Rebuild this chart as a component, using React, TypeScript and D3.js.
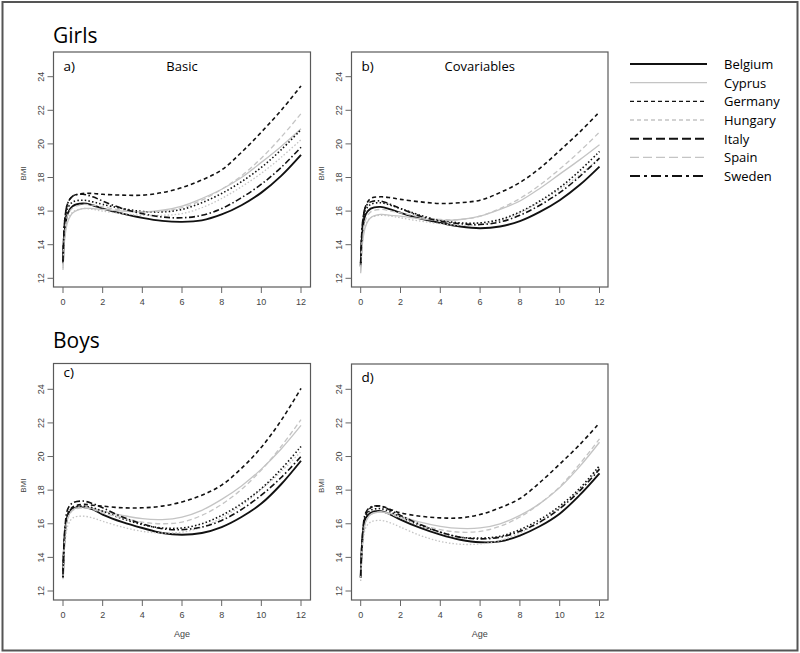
import React from "react";
import * as d3 from "d3";

const ages = [0, 0.1, 0.25, 0.5, 1, 1.5, 2, 3, 4, 5, 6, 7, 8, 9, 10, 11, 12];
const countries = ["Belgium", "Cyprus", "Germany", "Hungary", "Italy", "Spain", "Sweden"];
const xTicks = [0, 2, 4, 6, 8, 10, 12];
const yTicks = [12, 14, 16, 18, 20, 22, 24];

// Girls, basic model (rows follow `countries`)
const girlsBasic = [
  [12.9, 15.0, 15.9, 16.3, 16.45, 16.35, 16.15, 15.85, 15.6, 15.42, 15.36, 15.45, 15.8, 16.35, 17.1, 18.1, 19.35],
  [12.5, 14.5, 15.4, 15.9, 16.15, 16.15, 16.1, 16.0, 15.95, 16.05, 16.3, 16.75, 17.3, 18.0, 18.9, 19.85, 20.9],
  [12.9, 15.6, 16.5, 16.9, 17.05, 17.05, 17.0, 16.95, 16.95, 17.1, 17.4, 17.85, 18.45, 19.5, 20.7, 22.0, 23.45],
  [12.6, 14.6, 15.5, 15.95, 16.15, 16.1, 16.0, 15.85, 15.75, 15.75, 15.85, 16.2, 16.75, 17.45, 18.25, 19.2, 20.25],
  [13.0, 15.4, 16.2, 16.55, 16.65, 16.55, 16.4, 16.15, 15.98, 15.95, 16.1, 16.5, 17.05, 17.75, 18.6, 19.65, 20.85],
  [12.7, 14.9, 15.8, 16.2, 16.4, 16.35, 16.25, 16.05, 15.95, 16.0, 16.2, 16.65, 17.3, 18.1, 19.15, 20.4, 21.8],
  [13.0, 15.6, 16.5, 16.9, 17.0, 16.85, 16.6, 16.15, 15.85, 15.65, 15.6, 15.75, 16.15, 16.8, 17.6, 18.6, 19.8],
];

// Girls, model with covariables
const girlsCov = [
  [12.7, 14.9, 15.8, 16.15, 16.25, 16.1, 15.9, 15.55, 15.3, 15.08, 14.98, 15.08, 15.4, 15.95, 16.65, 17.55, 18.65],
  [12.3, 14.2, 15.1, 15.6, 15.8, 15.75, 15.7, 15.55, 15.45, 15.5, 15.7, 16.1, 16.6, 17.35, 18.2, 19.05, 19.95],
  [12.8, 15.3, 16.3, 16.75, 16.85, 16.8, 16.7, 16.55, 16.45, 16.5, 16.65, 17.1, 17.7, 18.55, 19.6, 20.7, 21.9],
  [12.4, 14.3, 15.2, 15.6, 15.75, 15.7, 15.6, 15.4, 15.25, 15.15, 15.2, 15.45, 15.9, 16.55, 17.3, 18.15, 19.15],
  [12.9, 15.2, 16.05, 16.4, 16.5, 16.35, 16.15, 15.75, 15.45, 15.3, 15.3, 15.5, 15.95, 16.6, 17.4, 18.4, 19.55],
  [12.5, 14.6, 15.5, 15.95, 16.1, 16.0, 15.9, 15.65, 15.5, 15.5, 15.7, 16.15, 16.75, 17.55, 18.5, 19.55, 20.7],
  [12.9, 15.4, 16.25, 16.55, 16.6, 16.4, 16.15, 15.7, 15.4, 15.25, 15.2, 15.35, 15.75, 16.35, 17.1, 18.05, 19.15],
];

// Boys, basic model
const boysBasic = [
  [12.8, 15.4, 16.5, 16.9, 17.0, 16.85, 16.55, 16.1, 15.75, 15.45, 15.35, 15.45, 15.8, 16.4, 17.2, 18.35, 19.75],
  [12.9, 15.3, 16.4, 16.85, 17.0, 16.9, 16.75, 16.5, 16.3, 16.25, 16.4, 16.8, 17.45, 18.25, 19.25, 20.45, 21.85],
  [12.8, 15.6, 16.6, 17.0, 17.15, 17.1, 17.05, 16.95, 16.95, 17.05, 17.3, 17.7, 18.3, 19.3, 20.55, 22.15, 24.05],
  [12.7, 14.8, 15.9, 16.35, 16.45, 16.35, 16.15, 15.8, 15.55, 15.45, 15.5, 15.8, 16.35, 17.1, 18.05, 19.1, 20.3],
  [12.9, 15.5, 16.6, 16.95, 17.05, 16.95, 16.75, 16.3, 15.95, 15.75, 15.75, 16.0, 16.5, 17.2, 18.1, 19.25, 20.6],
  [12.9, 15.3, 16.35, 16.8, 16.95, 16.85, 16.65, 16.35, 16.1, 16.0, 16.1, 16.5, 17.15, 18.05, 19.2, 20.6, 22.2],
  [13.0, 15.8, 16.9, 17.25, 17.35, 17.2, 16.95, 16.4, 16.0, 15.7, 15.65, 15.8, 16.2, 16.85, 17.7, 18.75, 20.0],
];

// Boys, model with covariables
const boysCov = [
  [12.8, 15.2, 16.3, 16.65, 16.75, 16.55, 16.25, 15.75, 15.35, 15.05, 14.9, 14.95, 15.3, 15.85, 16.6, 17.7, 19.0],
  [12.8, 15.0, 16.1, 16.55, 16.7, 16.6, 16.45, 16.1, 15.85, 15.72, 15.75, 16.0, 16.5, 17.2, 18.15, 19.4, 20.85],
  [12.8, 15.4, 16.5, 16.95, 17.05, 16.85, 16.65, 16.45, 16.35, 16.35, 16.55, 16.95, 17.5, 18.45, 19.55, 20.7, 22.0],
  [12.6, 14.7, 15.75, 16.1, 16.2, 16.05, 15.8, 15.3, 14.95, 14.78, 14.8, 15.0, 15.45, 16.1, 16.95, 18.0, 19.35],
  [12.8, 15.3, 16.45, 16.8, 16.9, 16.7, 16.4, 15.9, 15.5, 15.2, 15.15, 15.25, 15.65, 16.25, 17.05, 18.1, 19.45],
  [12.8, 15.0, 16.1, 16.55, 16.7, 16.55, 16.35, 15.95, 15.65, 15.5, 15.55, 15.85, 16.4, 17.2, 18.2, 19.55, 21.05],
  [12.9, 15.5, 16.65, 17.0, 17.05, 16.8, 16.5, 15.95, 15.5, 15.2, 15.1, 15.2, 15.55, 16.1, 16.9, 17.95, 19.25],
];

const BLACK = "#111";
const GREY = "#c4c4c4";
const colors = [BLACK, GREY, BLACK, GREY, BLACK, GREY, BLACK];
const plotWidths = [1.9, 1.3, 1.6, 1.3, 1.6, 1.3, 1.6];
const plotDash = ["", "", "4,3", "1.5,2", "1.5,2.2", "5,3", "6,2.5,1.5,2.5"];
const legendWidths = [1.8, 1.3, 1.4, 1.3, 2, 1.3, 1.8];
const legendDash = ["", "", "4,3", "4,3", "9,4", "9,4", "10,4,3,4"];

const tickFont = "'Liberation Sans', Arial, sans-serif";
const calibri = "'Open Sans', 'Noto Sans', sans-serif";

type PanelProps = {
  left: number; top: number; right: number; bottom: number;
  xr: [number, number]; yr: [number, number];
  data: number[][]; tag: string; tagY: number; subtitle?: string; showAge: boolean;
};

function Panel({ left, top, right, bottom, xr, yr, data, tag, tagY, subtitle, showAge }: PanelProps) {
  const x = d3.scaleLinear().domain([0, 12]).range(xr);
  const y = d3.scaleLinear().domain([12, 24]).range(yr);
  const line = d3
    .line<[number, number]>()
    .x((d) => x(d[0]))
    .y((d) => y(d[1]))
    .curve(d3.curveCatmullRom.alpha(0.5));
  const cx = (left + right) / 2;
  const cy = (top + bottom) / 2;
  return (
    <g>
      {data.map((vals, i) => (
        <path
          key={countries[i]}
          d={line(ages.map((a, j) => [a, vals[j]] as [number, number])) || ""}
          fill="none"
          stroke={colors[i]}
          strokeWidth={plotWidths[i]}
          strokeDasharray={plotDash[i] || undefined}
        />
      ))}
      <rect x={left} y={top} width={right - left} height={bottom - top} fill="none" stroke="#5a5a5a" strokeWidth={1.2} />
      {xTicks.map((t) => (
        <g key={"x" + t}>
          <line x1={x(t)} x2={x(t)} y1={bottom} y2={bottom + 6} stroke="#666" strokeWidth={1} />
          <text x={x(t)} y={bottom + 18} fontSize={9} fontFamily={tickFont} fill="#444" textAnchor="middle">{t}</text>
        </g>
      ))}
      {yTicks.map((t) => (
        <g key={"y" + t}>
          <line x1={left} x2={left - 6} y1={y(t)} y2={y(t)} stroke="#666" strokeWidth={1} />
          <text
            transform={`translate(${left - 10},${y(t)}) rotate(-90)`}
            fontSize={9}
            fontFamily={tickFont}
            fill="#444"
            textAnchor="middle"
          >{t}</text>
        </g>
      ))}
      <text transform={`translate(${left - 28},${cy + 4}) rotate(-90)`} fontSize={8} fontFamily={tickFont} fill="#444" textAnchor="middle">BMI</text>
      {showAge && (
        <text x={cx} y={bottom + 37} fontSize={9} fontFamily={tickFont} fill="#444" textAnchor="middle">Age</text>
      )}
      <text x={left + 10} y={tagY} fontSize={13.5} fontFamily={calibri} fill="#000">{tag}</text>
      {subtitle && (
        <text x={cx} y={tagY} fontSize={13} fontFamily={calibri} fill="#000" textAnchor="middle">{subtitle}</text>
      )}
    </g>
  );
}

export default function App() {
  const legendY = d3.scaleLinear().domain([0, 6]).range([64, 176]);
  return (
    <svg width={800} height={653} style={{ position: "absolute", left: 0, top: 0, background: "#fff" }}>
      <rect x={0} y={0} width={800} height={653} fill="#fff" />
      <rect x={2.5} y={2} width={795} height={648.5} fill="none" stroke="#555" strokeWidth={2} />
      <text x={53} y={43} fontSize={21} fontFamily={calibri} fill="#000">Girls</text>
      <text x={53} y={347.5} fontSize={21} fontFamily={calibri} fill="#000">Boys</text>
      <Panel left={53.5} top={52} right={310.5} bottom={287} xr={[63, 301]} yr={[278.3, 76.7]} data={girlsBasic} tag="a)" tagY={70.5} subtitle="Basic" showAge={false} />
      <Panel left={351.5} top={52} right={608} bottom={287} xr={[360.7, 599.5]} yr={[278.3, 76.7]} data={girlsCov} tag="b)" tagY={70.5} subtitle="Covariables" showAge={false} />
      <Panel left={53.5} top={363.5} right={310.5} bottom={600} xr={[63, 301]} yr={[591, 389.3]} data={boysBasic} tag="c)" tagY={377} showAge={true} />
      <Panel left={351.5} top={364} right={608} bottom={600} xr={[360.7, 599.5]} yr={[591, 389.3]} data={boysCov} tag="d)" tagY={382} showAge={true} />
      {countries.map((c, i) => (
        <g key={c}>
          <line
            x1={630}
            x2={707}
            y1={legendY(i)}
            y2={legendY(i)}
            stroke={colors[i]}
            strokeWidth={legendWidths[i]}
            strokeDasharray={legendDash[i] || undefined}
          />
          <text x={724} y={legendY(i) + 5} fontSize={13} fontFamily={calibri} fill="#000">{c}</text>
        </g>
      ))}
    </svg>
  );
}
